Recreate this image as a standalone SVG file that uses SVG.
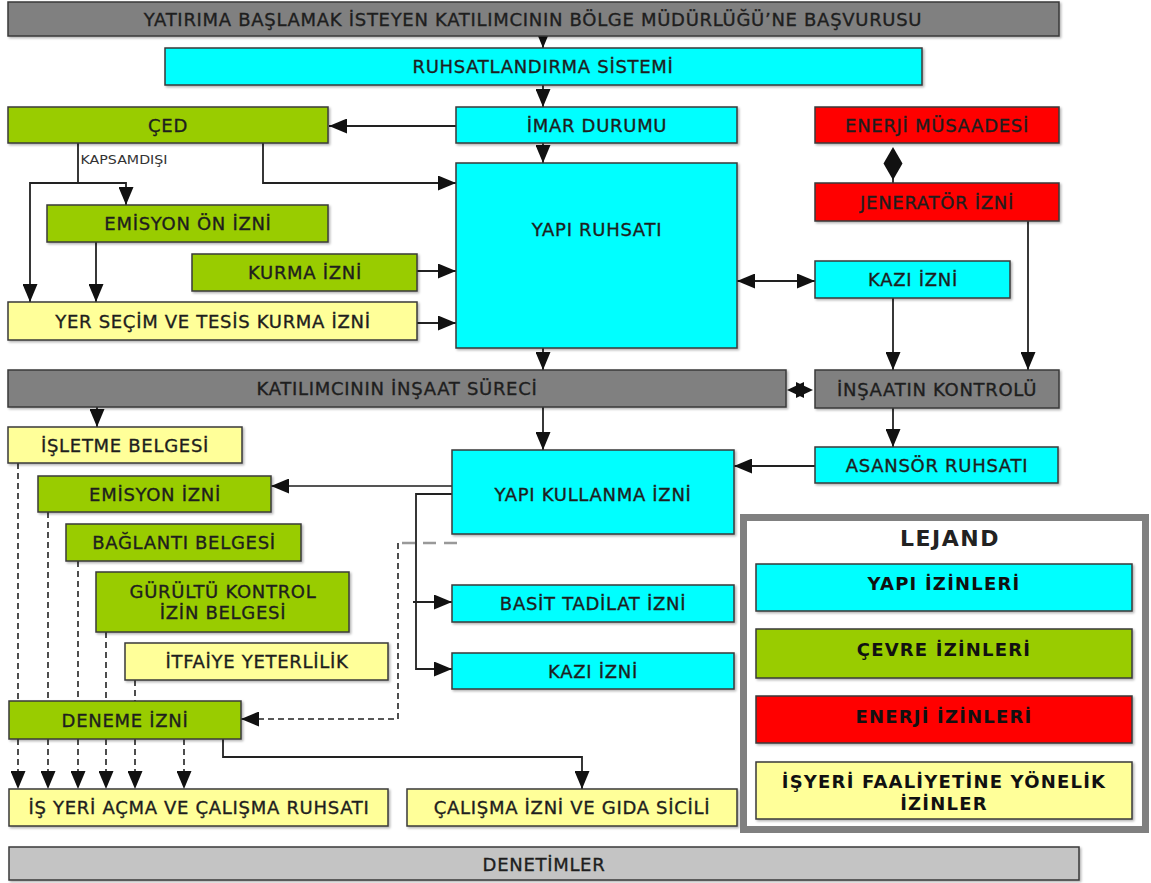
<svg xmlns="http://www.w3.org/2000/svg" width="1151" height="883" viewBox="0 0 1151 883">
<defs>
<filter id="sh" x="-5%" y="-10%" width="110%" height="130%"><feDropShadow dx="1.5" dy="1.5" stdDeviation="1" flood-color="#000" flood-opacity="0.3"/></filter>
<marker id="ah" markerUnits="userSpaceOnUse" viewBox="0 0 18 15" refX="18" refY="7.5" markerWidth="18" markerHeight="15" orient="auto-start-reverse"><path d="M0,0 L18,7.5 L0,15 z" fill="#111"/></marker>
</defs>
<style>
.bx{stroke:#3a3a3a;stroke-width:1.5;filter:url(#sh)}
.cy{fill:#00ffff}.gr{fill:#99cc00}.rd{fill:#ff0000}.ye{fill:#ffff99}.gy{fill:#808080}.lg{fill:#c4c4c4}
.t{font-family:"DejaVu Sans",Verdana,sans-serif;font-size:18px;letter-spacing:0.7px;fill:#1e1e1e;stroke:#1e1e1e;stroke-width:0.35;text-anchor:middle}
.b{font-family:"DejaVu Sans",Verdana,sans-serif;font-size:18px;font-weight:bold;letter-spacing:1.2px;fill:#111;text-anchor:middle}
.c{fill:none;stroke:#222;stroke-width:1.8}
.d{fill:none;stroke:#222;stroke-width:1.6;stroke-dasharray:6,4}
.a{marker-end:url(#ah)}
</style>
<rect width="1151" height="883" fill="#fff"/>
<g id="connectors">
<line class="c a" x1="543" y1="30" x2="543" y2="48"/>
<line class="c a" x1="543" y1="85" x2="543" y2="107"/>
<line class="c a" x1="456" y1="126" x2="329" y2="126"/>
<line class="c a" x1="543" y1="143" x2="543" y2="163"/>
<polyline class="c" points="78,143 78,183"/>
<polyline class="c a" points="78,183 30,183 30,302"/>
<polyline class="c a" points="78,183 126,183 126,205"/>
<polyline class="c a" points="263,143 263,183 456,183"/>
<line class="c a" x1="96" y1="242" x2="96" y2="302"/>
<line class="c a" x1="417" y1="271" x2="456" y2="271"/>
<line class="c a" x1="417" y1="323" x2="456" y2="323"/>
<line class="c a" x1="737" y1="281" x2="815" y2="281" marker-start="url(#ah)"/>
<line class="c" x1="893" y1="175" x2="893" y2="183"/>
<polygon points="893,147 902.5,163.5 893,180 883.5,163.5" fill="#111"/>
<line class="c a" x1="1028" y1="221" x2="1028" y2="370"/>
<line class="c a" x1="893" y1="298" x2="893" y2="370"/>
<line class="c a" x1="543" y1="348" x2="543" y2="370"/>
<polygon points="787,390 804,382 804,398" fill="#111"/>
<polygon points="813,390 796,382 796,398" fill="#111"/>
<line class="c a" x1="97" y1="407" x2="97" y2="427"/>
<line class="c a" x1="543" y1="407" x2="543" y2="450"/>
<line class="c a" x1="893" y1="408" x2="893" y2="447"/>
<line class="c a" x1="815" y1="466" x2="734" y2="466"/>
<line class="a" x1="453" y1="486" x2="271" y2="486" stroke="#555" stroke-width="2.2"/>
<polyline class="c a" points="455,494 416,494 416,669 452,669"/>
<line class="c a" x1="413" y1="602" x2="452" y2="602"/>
<line x1="457" y1="543" x2="400" y2="543" stroke="#999" stroke-width="2.5" stroke-dasharray="13,8"/>
<polyline class="d a" points="398,543 398,719 241,719"/>
<line class="d" x1="18" y1="463" x2="18" y2="701"/>
<line class="d" x1="48" y1="512" x2="48" y2="701"/>
<line class="d" x1="78" y1="561" x2="78" y2="701"/>
<line class="d" x1="106" y1="632" x2="106" y2="701"/>
<line class="d" x1="135" y1="680" x2="135" y2="701"/>
<line class="d a" x1="18" y1="739" x2="18" y2="789"/>
<line class="d a" x1="48" y1="739" x2="48" y2="789"/>
<line class="d a" x1="78" y1="739" x2="78" y2="789"/>
<line class="d a" x1="106" y1="739" x2="106" y2="789"/>
<line class="d a" x1="135" y1="739" x2="135" y2="789"/>
<line class="d a" x1="184" y1="739" x2="184" y2="789"/>
<polyline class="c a" points="223,739 223,757 582,757 582,789"/>
</g>
<g id="n-basvuru"><rect class="bx gy" x="8" y="2" width="1051" height="34"/><text class="t" x="533" y="26">YATIRIMA BAŞLAMAK İSTEYEN KATILIMCININ BÖLGE MÜDÜRLÜĞÜ’NE BAŞVURUSU</text></g>
<g id="n-ruhsat-sistemi"><rect class="bx cy" x="165" y="48" width="757" height="37"/><text class="t" x="543" y="73">RUHSATLANDIRMA SİSTEMİ</text></g>
<g id="n-ced"><rect class="bx gr" x="8" y="107" width="320" height="36"/><text class="t" x="168" y="131.5">ÇED</text></g>
<g id="n-kapsam"><text x="80.5" y="164" font-family="DejaVu Sans,Verdana,sans-serif" font-size="12" fill="#333" textLength="87" lengthAdjust="spacingAndGlyphs">KAPSAMDIŞI</text></g>
<g id="n-imar"><rect class="bx cy" x="456" y="107" width="281" height="36"/><text class="t" x="597" y="131.5">İMAR DURUMU</text></g>
<g id="n-enerji"><rect class="bx rd" x="815" y="107" width="244" height="36"/><text class="t" x="937" y="131.5">ENERJİ MÜSAADESİ</text></g>
<g id="n-jenerator"><rect class="bx rd" x="815" y="183" width="244" height="38"/><text class="t" x="937" y="208.5">JENERATÖR İZNİ</text></g>
<g id="n-yapi-ruhsati"><rect class="bx cy" x="456" y="163" width="281" height="185"/><text class="t" x="597" y="235.5">YAPI RUHSATI</text></g>
<g id="n-emisyon-on"><rect class="bx gr" x="47" y="205" width="281" height="37"/><text class="t" x="188" y="230">EMİSYON ÖN İZNİ</text></g>
<g id="n-kurma"><rect class="bx gr" x="192" y="254" width="225" height="37"/><text class="t" x="305" y="279">KURMA İZNİ</text></g>
<g id="n-yer-secim"><rect class="bx ye" x="8" y="302" width="409" height="38"/><text class="t" x="213" y="327.5">YER SEÇİM VE TESİS KURMA İZNİ</text></g>
<g id="n-kazi1"><rect class="bx cy" x="815" y="261" width="195" height="37"/><text class="t" x="913" y="286">KAZI İZNİ</text></g>
<g id="n-insaat"><rect class="bx gy" x="8" y="370" width="778" height="37"/><text class="t" x="397" y="395">KATILIMCININ İNŞAAT SÜRECİ</text></g>
<g id="n-kontrol"><rect class="bx gy" x="815" y="370" width="244" height="38"/><text class="t" x="937" y="395.5">İNŞAATIN KONTROLÜ</text></g>
<g id="n-isletme"><rect class="bx ye" x="8" y="427" width="234" height="36"/><text class="t" x="125" y="451.5">İŞLETME BELGESİ</text></g>
<g id="n-yapi-kullanma"><rect class="bx cy" x="452" y="450" width="282" height="84"/><text class="t" x="593" y="500.5">YAPI KULLANMA İZNİ</text></g>
<g id="n-asansor"><rect class="bx cy" x="815" y="447" width="243" height="36"/><text class="t" x="937" y="471.5">ASANSÖR RUHSATI</text></g>
<g id="n-emisyon"><rect class="bx gr" x="38" y="476" width="233" height="36"/><text class="t" x="155" y="500.5">EMİSYON İZNİ</text></g>
<g id="n-baglanti"><rect class="bx gr" x="66" y="524" width="235" height="37"/><text class="t" x="184" y="549">BAĞLANTI BELGESİ</text></g>
<g id="n-gurultu"><rect class="bx gr" x="96" y="572" width="253" height="60"/><text class="t" x="223" y="598">GÜRÜLTÜ KONTROL</text><text class="t" x="223" y="619">İZİN BELGESİ</text></g>
<g id="n-basit"><rect class="bx cy" x="452" y="585" width="282" height="37"/><text class="t" x="593" y="610">BASİT TADİLAT İZNİ</text></g>
<g id="n-itfaiye"><rect class="bx ye" x="125" y="643" width="263" height="37"/><text class="t" x="257" y="668">İTFAİYE YETERLİLİK</text></g>
<g id="n-kazi2"><rect class="bx cy" x="452" y="653" width="282" height="36"/><text class="t" x="593" y="677.5">KAZI İZNİ</text></g>
<g id="n-deneme"><rect class="bx gr" x="9" y="701" width="232" height="38"/><text class="t" x="125" y="726.5">DENEME İZNİ</text></g>
<g id="n-isyeri"><rect class="bx ye" x="9" y="789" width="379" height="37"/><text class="t" x="199" y="814">İŞ YERİ AÇMA VE ÇALIŞMA RUHSATI</text></g>
<g id="n-calisma"><rect class="bx ye" x="407" y="789" width="330" height="37"/><text class="t" x="572" y="814">ÇALIŞMA İZNİ VE GIDA SİCİLİ</text></g>
<g id="n-denetimler"><rect class="bx lg" x="9" y="847" width="1070" height="33"/><text class="t" x="544" y="870.5">DENETİMLER</text></g>
<g id="legend">
<rect x="743.5" y="517.5" width="402" height="312" fill="#fff" stroke="#808080" stroke-width="7"/>
<text x="950" y="546" font-family="DejaVu Sans,Verdana,sans-serif" font-size="22" font-weight="bold" letter-spacing="1.5" fill="#222" text-anchor="middle">LEJAND</text>
<rect class="bx cy" x="756" y="564" width="376" height="47"/><text class="b" x="944" y="589.5">YAPI İZİNLERİ</text>
<rect class="bx gr" x="756" y="629" width="376" height="49"/><text class="b" x="944" y="655.5">ÇEVRE İZİNLERİ</text>
<rect class="bx rd" x="756" y="696" width="376" height="47"/><text class="b" x="944" y="722.5">ENERJİ İZİNLERİ</text>
<rect class="bx ye" x="756" y="762" width="376" height="57"/><text class="b" x="944" y="787.5">İŞYERİ FAALİYETİNE YÖNELİK</text><text class="b" x="944" y="809.5">İZİNLER</text>
</g>
</svg>
